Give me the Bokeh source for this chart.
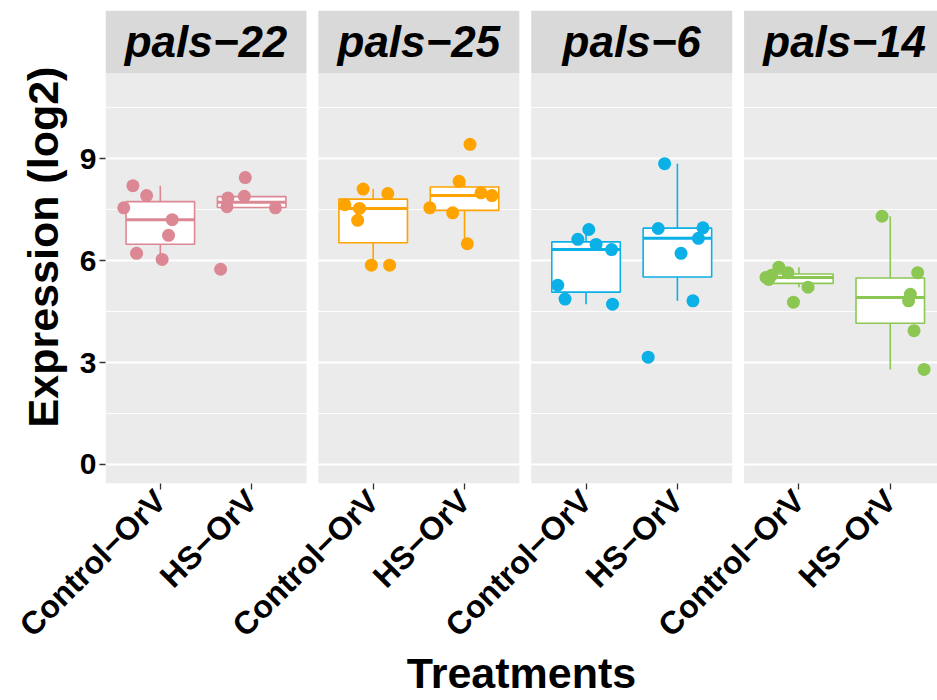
import math
import numpy as np
from bokeh.plotting import figure
from bokeh.models import FixedTicker, Range1d
from bokeh.core.properties import value
from bokeh.embed import file_html
from bokeh.resources import INLINE

# ---------------- data ----------------
genes = ["pals−22", "pals−25", "pals−6", "pals−14"]
treatments = ["Control−OrV", "HS−OrV"]
gene_colors = ["#DB8794", "#FFA300", "#0BB0E6", "#8CC653"]
y_ticks = [0, 3, 6, 9]
y_minor = [1.5, 4.5, 7.5, 10.5]

# expression (log2) per sample, with horizontal jitter
pals22_control = [8.21, 7.92, 7.56, 7.21, 6.75, 6.22, 6.04]
pals22_control_jit = [-0.30, -0.15, -0.40, 0.13, 0.09, -0.26, 0.02]
pals22_hs = [8.45, 7.90, 7.85, 7.59, 7.56, 5.75]
pals22_hs_jit = [-0.07, -0.08, -0.26, -0.27, 0.26, -0.34]

pals25_control = [8.11, 7.98, 7.65, 7.54, 7.19, 5.87, 5.87]
pals25_control_jit = [-0.11, 0.16, -0.31, -0.15, -0.17, -0.02, 0.18]
pals25_hs = [9.43, 8.34, 8.00, 7.92, 7.56, 7.41, 6.50]
pals25_hs_jit = [0.06, -0.06, 0.18, 0.30, -0.38, -0.13, 0.03]

pals6_control = [6.92, 6.63, 6.48, 6.33, 5.28, 4.87, 4.72]
pals6_control_jit = [0.03, -0.09, 0.11, 0.28, -0.31, -0.23, 0.29]
pals6_hs = [8.86, 6.95, 6.97, 6.66, 6.22, 4.82, 3.16]
pals6_hs_jit = [-0.14, -0.21, 0.28, 0.23, 0.04, 0.17, -0.32]

pals14_control = [5.81, 5.65, 5.57, 5.51, 5.45, 5.22, 4.78]
pals14_control_jit = [-0.22, -0.12, -0.30, -0.36, -0.33, 0.10, -0.06]
pals14_hs = [7.31, 5.65, 5.01, 4.82, 3.94, 2.80]
pals14_hs_jit = [-0.09, 0.30, 0.22, 0.20, 0.26, 0.37]

series = [
    [(pals22_control, pals22_control_jit), (pals22_hs, pals22_hs_jit)],
    [(pals25_control, pals25_control_jit), (pals25_hs, pals25_hs_jit)],
    [(pals6_control, pals6_control_jit), (pals6_hs, pals6_hs_jit)],
    [(pals14_control, pals14_control_jit), (pals14_hs, pals14_hs_jit)],
]

# ---------------- layout constants ----------------
PANEL_LO, PANEL_HI = 0.4, 2.6      # discrete scale expansion per facet
GAP = 0.13                         # space between facets (x units)
PITCH = (PANEL_HI - PANEL_LO) + GAP
Y_MIN, PANEL_TOP, STRIP_TOP = -0.56, 11.52, 13.37
BOX_W = 0.75

FONT = value("Liberation Sans")

p = figure(width=937, height=700, output_backend="svg", toolbar_location=None,
           x_range=Range1d(PANEL_LO, PANEL_LO + 9.107), y_range=Range1d(Y_MIN, STRIP_TOP),
           min_border_left=105, min_border_right=0, min_border_top=10, min_border_bottom=215)
p.background_fill_color = "white"
p.border_fill_color = "white"
p.outline_line_color = None

# facet panels and strips
lefts = [k * PITCH + PANEL_LO for k in range(len(genes))]
rights = [k * PITCH + PANEL_HI for k in range(len(genes))]
p.quad(left=lefts, right=rights, bottom=Y_MIN, top=PANEL_TOP,
       fill_color="#EBEBEB", line_color=None, level="image")
p.quad(left=lefts, right=rights, bottom=PANEL_TOP, top=STRIP_TOP,
       fill_color="#D9D9D9", line_color=None, level="image")
centers = [(l + r) / 2 for l, r in zip(lefts, rights)]
p.text(x=centers, y=[(PANEL_TOP + STRIP_TOP) / 2] * len(genes), text=genes,
       text_font=FONT, text_font_style="bold italic", text_font_size="44px",
       text_align="center", text_baseline="middle", text_color="black")

# grid
p.xgrid.grid_line_color = None
p.ygrid.ticker = FixedTicker(ticks=y_ticks, minor_ticks=y_minor)
p.ygrid.grid_line_color = "white"
p.ygrid.grid_line_width = 1.8
p.ygrid.minor_grid_line_color = "white"
p.ygrid.minor_grid_line_width = 0.9

# boxes and points
tick_pos, tick_labels = [], []
for k, gene in enumerate(genes):
    col = gene_colors[k]
    for j, (vals, jit) in enumerate(series[k]):
        xc = k * PITCH + (j + 1)
        tick_pos.append(xc)
        tick_labels.append(treatments[j])
        v = np.array(vals)
        q1, med, q3 = np.percentile(v, [25, 50, 75])
        iqr = q3 - q1
        lo = v[v >= q1 - 1.5 * iqr].min()
        hi = v[v <= q3 + 1.5 * iqr].max()
        p.segment(x0=[xc, xc], y0=[q3, q1], x1=[xc, xc], y1=[hi, lo],
                  line_color=col, line_width=1.6)
        p.quad(left=[xc - BOX_W / 2], right=[xc + BOX_W / 2], bottom=[q1], top=[q3],
               fill_color="white", line_color=col, line_width=1.6)
        p.segment(x0=[xc - BOX_W / 2], y0=[med], x1=[xc + BOX_W / 2], y1=[med],
                  line_color=col, line_width=3)
        p.scatter(x=[xc + d for d in jit], y=vals, size=13, color=col, line_color=None)

# axes
for ax in (p.xaxis[0], p.yaxis[0]):
    ax.axis_line_color = None
    ax.major_tick_line_color = "#333333"
    ax.major_tick_line_width = 1.3
    ax.major_tick_out = 6
    ax.major_tick_in = 0
    ax.minor_tick_line_color = None
    ax.major_label_text_font = "Liberation Sans"
    ax.major_label_text_font_style = "bold"
    ax.major_label_text_color = "black"
    ax.axis_label_text_font = "Liberation Sans"
    ax.axis_label_text_font_style = "bold"
    ax.axis_label_text_font_size = "43px"
    ax.axis_label_text_color = "black"

p.yaxis.major_label_text_font_size = "30px"
p.yaxis.major_label_standoff = 3
p.yaxis.axis_label_standoff = 10
p.yaxis.ticker = FixedTicker(ticks=y_ticks)
p.yaxis.axis_label = "Expression (log2)"

p.xaxis.major_label_text_font_size = "32px"
p.xaxis.major_label_standoff = 6
p.xaxis.axis_label_standoff = -10
p.xaxis.ticker = FixedTicker(ticks=tick_pos)
p.xaxis.major_label_overrides = {t: lab for t, lab in zip(tick_pos, tick_labels)}
p.xaxis.major_label_orientation = math.pi / 4
p.xaxis.axis_label = "Treatments"

open("out.html", "w").write(file_html(p, INLINE))
